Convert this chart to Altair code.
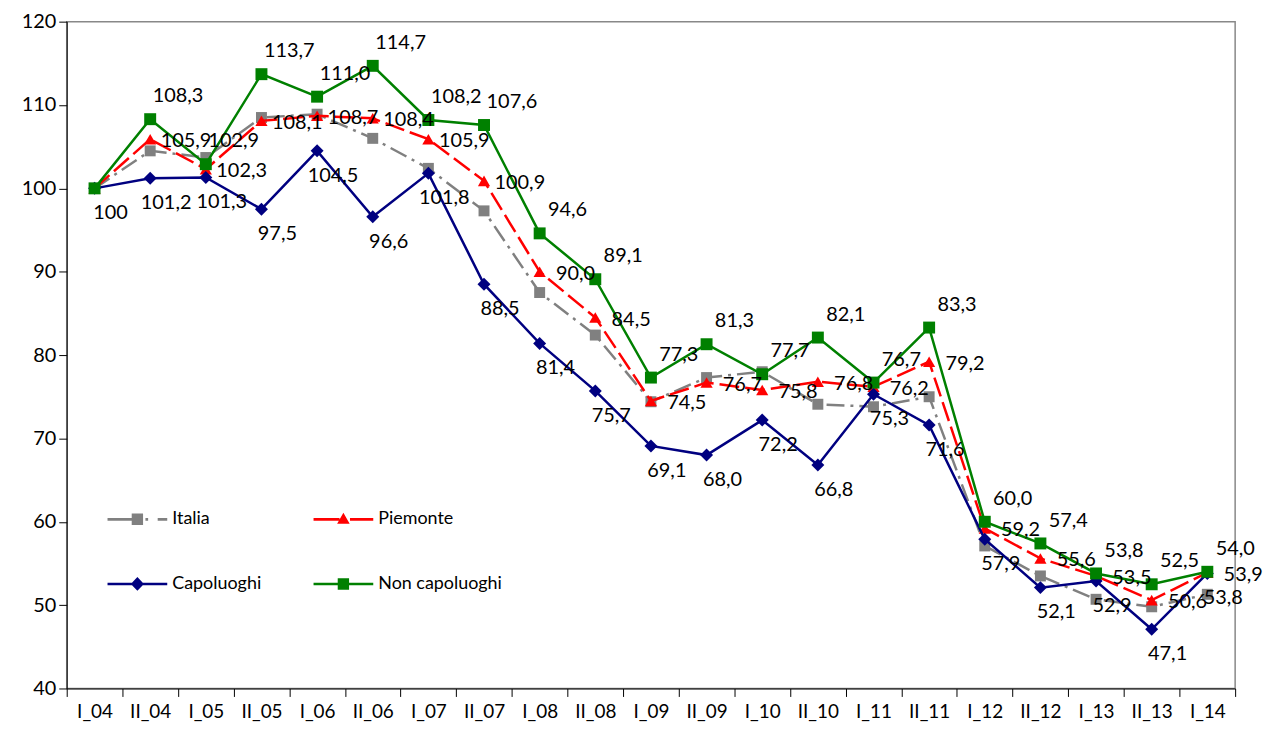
import altair as alt
import pandas as pd

periods = ["I_04", "II_04", "I_05", "II_05", "I_06", "II_06", "I_07", "II_07",
           "I_08", "II_08", "I_09", "II_09", "I_10", "II_10", "I_11", "II_11",
           "I_12", "II_12", "I_13", "II_13", "I_14"]

italia = [100, 104.5, 103.7, 108.5, 108.9, 106.0, 102.4, 97.3, 87.5, 82.4, 74.4,
          77.3, 78.0, 74.1, 73.8, 75.0, 57.1, 53.5, 50.7, 49.8, 51.3]
piemonte = [100, 105.9, 102.3, 108.1, 108.7, 108.4, 105.9, 100.9, 90.0, 84.5, 74.5,
            76.7, 75.8, 76.8, 76.2, 79.2, 59.2, 55.6, 53.5, 50.6, 53.9]
capoluoghi = [100, 101.2, 101.3, 97.5, 104.5, 96.6, 101.8, 88.5, 81.4, 75.7, 69.1,
              68.0, 72.2, 66.8, 75.3, 71.6, 57.9, 52.1, 52.9, 47.1, 53.8]
non_capoluoghi = [100, 108.3, 102.9, 113.7, 111.0, 114.7, 108.2, 107.6, 94.6, 89.1, 77.3,
                  81.3, 77.7, 82.1, 76.7, 83.3, 60.0, 57.4, 53.8, 52.5, 54.0]

series_names = ["Italia", "Piemonte", "Capoluoghi", "Non capoluoghi"]
series_values = [italia, piemonte, capoluoghi, non_capoluoghi]
colors = ["#808080", "#ff0000", "#000080", "#008000"]

rows = []
for name, vals in zip(series_names, series_values):
    for p, v in zip(periods, vals):
        rows.append({"periodo": p, "serie": name, "valore": v})
df = pd.DataFrame(rows)

FONT = "Lato"

x_enc = alt.X("periodo:N", sort=periods,
              scale=alt.Scale(type="band", domain=periods, paddingInner=0, paddingOuter=0),
              axis=alt.Axis(title=None, labelAngle=0, tickBand="extent", tickSize=8,
                            labelPadding=6, labelFontSize=19, labelFont=FONT,
                            labelColor="black", domainColor="black", tickColor="black",
                            grid=False))
y_enc = alt.Y("valore:Q", scale=alt.Scale(domain=[40, 120], nice=False, zero=False),
              axis=alt.Axis(title=None, values=list(range(40, 121, 10)), tickSize=8,
                            labelPadding=3, labelFontSize=20, labelFont=FONT,
                            labelColor="black", domainColor="black", tickColor="black",
                            grid=False))

base = alt.Chart(df)

# style per series: (dash, shape, size)
styles = {
    "Italia": ([18, 6, 3, 6], "square", 121),
    "Piemonte": ([20, 6], "triangle-up", 150),
    "Capoluoghi": (None, "diamond", 170),
    "Non capoluoghi": (None, "square", 144),
}
# label offsets per series (dx, dy); Italia not labelled
label_offsets = {
    "Piemonte": (36, 2),
    "Capoluoghi": (16, 25),
    "Non capoluoghi": (28, -23),
}

label_expr = "datum.valore == 100 ? '100' : replace(format(datum.valore, '.1f'), '.', ',')"

layers = []
for name, color in zip(series_names, colors):
    dash, shape, size = styles[name]
    sub = base.transform_filter(alt.datum.serie == name)
    line_kwargs = dict(color=color, strokeWidth=2.5)
    if dash:
        line_kwargs["strokeDash"] = dash
    layers.append(sub.mark_line(**line_kwargs).encode(x=x_enc, y=y_enc))
    layers.append(sub.mark_point(filled=True, color=color, shape=shape, size=size,
                                 opacity=1).encode(x=x_enc, y=y_enc))

for name in ["Piemonte", "Capoluoghi", "Non capoluoghi"]:
    dx, dy = label_offsets[name]
    sub = base.transform_filter(alt.datum.serie == name)
    if name != "Capoluoghi":
        sub = sub.transform_filter(alt.datum.periodo != "I_04")
    layers.append(
        sub.transform_calculate(lab=label_expr)
        .mark_text(font=FONT, fontSize=20, color="black", dx=dx, dy=dy,
                   align="center", baseline="middle")
        .encode(x=x_enc, y=y_enc, text="lab:N")
    )

legend_paths = [
    "M-1,-0.045H-0.15V0.045H-1Z M-0.19,-0.19H0.19V0.19H-0.19Z M0.27,-0.045H0.36V0.045H0.27Z M0.68,-0.045H1V0.045H0.68Z",
    "M-1,-0.045H-0.13V0.045H-1Z M0,-0.22L0.21,0.15H-0.21Z M0.22,-0.045H1V0.045H0.22Z",
    "M-1,-0.045H1V0.045H-1Z M0,-0.23L0.22,0L0,0.23L-0.22,0Z",
    "M-1,-0.045H1V0.045H-1Z M-0.19,-0.19H0.19V0.19H-0.19Z",
]

leg = alt.Legend(title=None, orient="none", legendX=41, legendY=470, columns=2,
                 direction="horizontal",
                 symbolSize=3600, symbolStrokeWidth=0, labelFont=FONT, labelFontSize=18,
                 labelColor="black", labelOffset=5, columnPadding=52, rowPadding=26,
                 padding=0)

legend_layer = base.transform_filter("false").mark_point(filled=True, opacity=1).encode(
    x=x_enc, y=y_enc,
    color=alt.Color("serie:N", scale=alt.Scale(domain=series_names, range=colors), legend=leg),
    shape=alt.Shape("serie:N", scale=alt.Scale(domain=series_names, range=legend_paths), legend=leg),
)
layers.append(legend_layer)

chart = alt.layer(*layers).properties(
    width=1174, height=670,
    autosize=alt.AutoSizeParams(type="none"),
    padding={"left": 59, "top": 12, "right": 30, "bottom": 40},
).configure_view(stroke="#888888", strokeWidth=1.5)

chart.save("out.html", embed_options={"renderer": "svg", "actions": False})
